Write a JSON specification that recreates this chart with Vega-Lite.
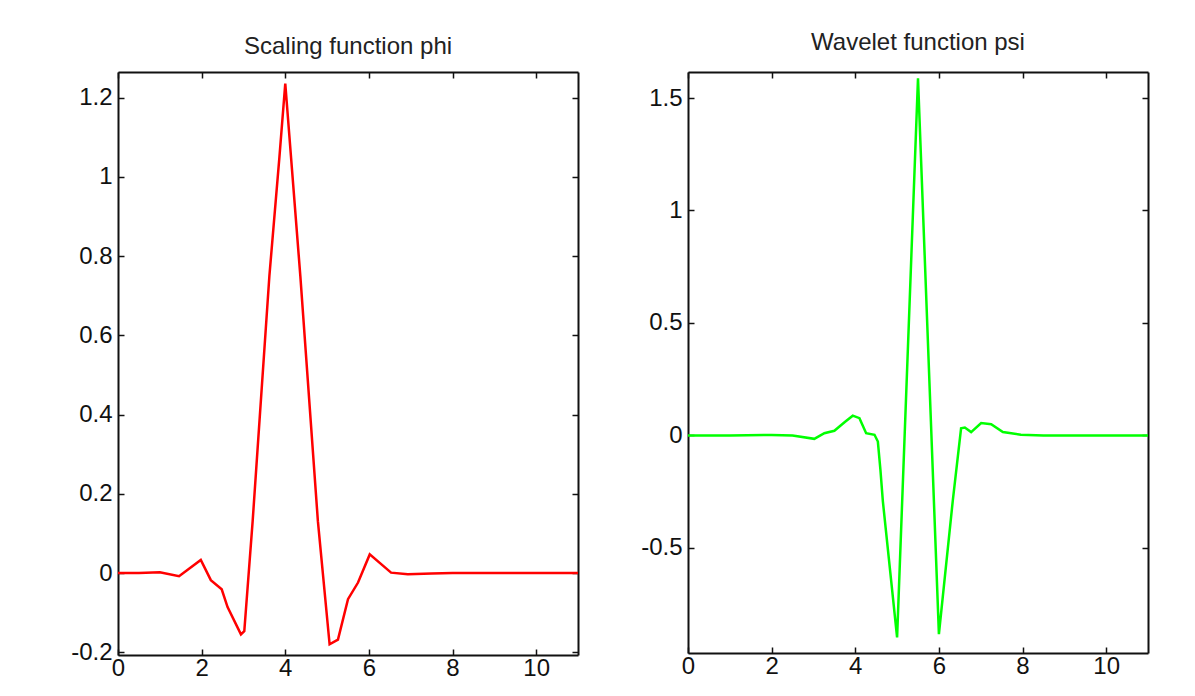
{
  "$schema": "https://vega.github.io/schema/vega-lite/v6.json",
  "padding": {"left": 70, "top": 31, "right": 0, "bottom": 0},
  "background": "white",
  "config": {
    "font": "Liberation Sans",
    "view": {"stroke": null},
    "title": {"fontSize": 24, "fontWeight": "normal", "color": "#222222", "offset": 12},
    "axis": {"labelFontSize": 24, "labelColor": "#111111", "domainColor": "#111111", "domainWidth": 2, "tickColor": "#111111", "tickWidth": 1.5, "tickSize": -6, "labelPadding": 12, "labelFlush": false, "grid": false, "title": null},
    "axisBottom": {"labelPadding": 7}
  },
  "datasets": {
    "phi": [
      {"x": 0, "v": 0}, {"x": 0.5, "v": 0}, {"x": 1.0, "v": 0.002}, {"x": 1.46, "v": -0.008},
      {"x": 1.98, "v": 0.033}, {"x": 2.22, "v": -0.018}, {"x": 2.48, "v": -0.041}, {"x": 2.62, "v": -0.086},
      {"x": 2.94, "v": -0.155}, {"x": 3.02, "v": -0.147}, {"x": 3.22, "v": 0.131}, {"x": 3.62, "v": 0.75},
      {"x": 3.86, "v": 1.05}, {"x": 4.0, "v": 1.236}, {"x": 4.16, "v": 1.02}, {"x": 4.36, "v": 0.75},
      {"x": 4.78, "v": 0.131}, {"x": 5.06, "v": -0.18}, {"x": 5.26, "v": -0.168}, {"x": 5.5, "v": -0.066},
      {"x": 5.74, "v": -0.024}, {"x": 6.02, "v": 0.047}, {"x": 6.53, "v": 0.001}, {"x": 6.93, "v": -0.003},
      {"x": 7.5, "v": -0.001}, {"x": 8, "v": 0}, {"x": 9, "v": 0}, {"x": 10, "v": 0}, {"x": 11, "v": 0}
    ],
    "psi": [
      {"x": 0, "v": 0}, {"x": 1, "v": 0}, {"x": 2, "v": 0.002}, {"x": 2.5, "v": 0}, {"x": 3.02, "v": -0.015},
      {"x": 3.26, "v": 0.01}, {"x": 3.5, "v": 0.021}, {"x": 3.75, "v": 0.06}, {"x": 3.94, "v": 0.088},
      {"x": 4.1, "v": 0.077}, {"x": 4.26, "v": 0.01}, {"x": 4.46, "v": 0.003}, {"x": 4.54, "v": -0.027},
      {"x": 4.6, "v": -0.15}, {"x": 4.66, "v": -0.293}, {"x": 5.0, "v": -0.898}, {"x": 5.5, "v": 1.588},
      {"x": 6.0, "v": -0.883}, {"x": 6.33, "v": -0.293}, {"x": 6.53, "v": 0.032}, {"x": 6.62, "v": 0.035},
      {"x": 6.77, "v": 0.015}, {"x": 7.01, "v": 0.055}, {"x": 7.25, "v": 0.05}, {"x": 7.53, "v": 0.015},
      {"x": 7.96, "v": 0.003}, {"x": 8.5, "v": 0}, {"x": 9, "v": 0}, {"x": 10, "v": 0}, {"x": 11, "v": 0}
    ]
  },
  "spacing": 57,
  "hconcat": [
    {
      "title": {"text": "Scaling function phi", "offset": 12},
      "width": 460,
      "height": 583,
      "data": {"name": "phi"},
      "layer": [
        {
          "mark": {"type": "line", "color": "#ff0000", "strokeWidth": 2.5},
          "encoding": {
            "x": {"field": "x", "type": "quantitative", "scale": {"domain": [0, 11], "nice": false, "zero": false}, "axis": {"orient": "bottom", "values": [0, 2, 4, 6, 8, 10], "labelExpr": "'' + datum.value"}},
            "y": {"field": "v", "type": "quantitative", "scale": {"domain": [-0.207, 1.265], "nice": false, "zero": false}, "axis": {"orient": "left", "values": [-0.2, 0, 0.2, 0.4, 0.6, 0.8, 1, 1.2], "labelExpr": "'' + datum.value"}}
          }
        },
        {
          "mark": {"type": "line", "opacity": 0},
          "encoding": {
            "x": {"field": "x", "type": "quantitative", "axis": {"orient": "top", "values": [0, 2, 4, 6, 8, 10], "labels": false}},
            "y": {"field": "v", "type": "quantitative", "axis": {"orient": "right", "values": [-0.2, 0, 0.2, 0.4, 0.6, 0.8, 1, 1.2], "labels": false}}
          }
        }
      ],
      "resolve": {"axis": {"x": "independent", "y": "independent"}}
    },
    {
      "title": {"text": "Wavelet function psi", "offset": 16},
      "width": 460,
      "height": 581,
      "data": {"name": "psi"},
      "layer": [
        {
          "mark": {"type": "line", "color": "#00ff00", "strokeWidth": 2.5},
          "encoding": {
            "x": {"field": "x", "type": "quantitative", "scale": {"domain": [0, 11], "nice": false, "zero": false}, "axis": {"orient": "bottom", "values": [0, 2, 4, 6, 8, 10], "labelExpr": "'' + datum.value"}},
            "y": {"field": "v", "type": "quantitative", "scale": {"domain": [-0.967, 1.6156], "nice": false, "zero": false}, "axis": {"orient": "left", "values": [-0.5, 0, 0.5, 1, 1.5], "labelExpr": "'' + datum.value"}}
          }
        },
        {
          "mark": {"type": "line", "opacity": 0},
          "encoding": {
            "x": {"field": "x", "type": "quantitative", "axis": {"orient": "top", "values": [0, 2, 4, 6, 8, 10], "labels": false}},
            "y": {"field": "v", "type": "quantitative", "axis": {"orient": "right", "values": [-0.5, 0, 0.5, 1, 1.5], "labels": false}}
          }
        }
      ],
      "resolve": {"axis": {"x": "independent", "y": "independent"}}
    }
  ]
}
